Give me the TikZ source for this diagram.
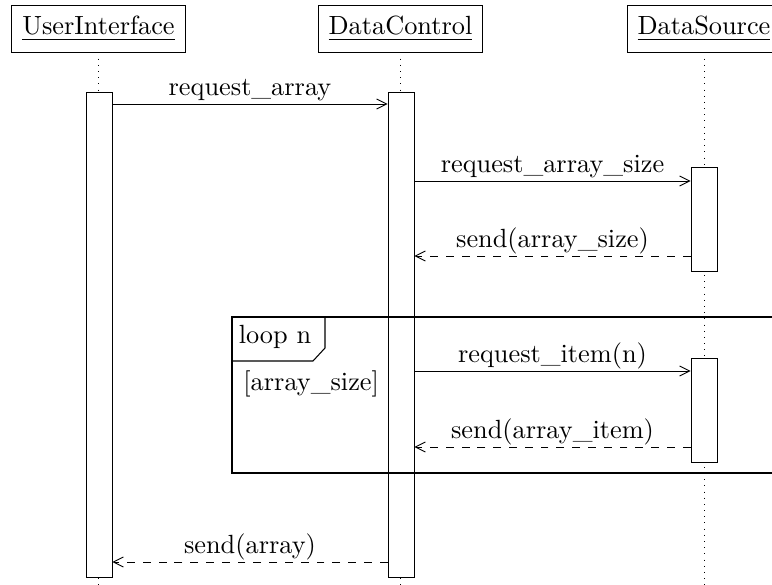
\documentclass[tikz,border=0pt]{standalone}
\usetikzlibrary{arrows.meta,calc}
\begin{document}
\begin{tikzpicture}[x=0.38pt,y=-0.38pt,line width=0.32pt,
  header/.style={draw,rectangle,inner xsep=4pt,minimum height=17.9pt},
  lifeline/.style={dash pattern=on 0.35pt off 2pt},
  activation/.style={draw,fill=white,rectangle,minimum width=9.9pt,inner sep=0pt},
  call/.style={-{Straight Barb[length=3.8pt,width=3.8pt]}},
  reply/.style={call,dashed},
  msglabel/.style={anchor=base,inner sep=0pt},
  frame/.style={draw,line width=0.4pt}]
\useasboundingbox (0,0) rectangle (772,585);

% participants
\node[header] (ui) at (98.5,28.5) {\underline{UserInterface}};
\node[header] (dc) at (400.5,28.5) {\underline{DataControl}};
\node[header] (ds) at (704,28.5) {\underline{DataSource}};

% lifelines
\coordinate (uiEnd) at (98.5,590);
\coordinate (dcEnd) at (400.5,590);
\coordinate (dsEnd) at (704,590);
\draw[lifeline] (ui.south) -- (uiEnd);
\draw[lifeline] (dc.south) -- (dcEnd);
\draw[lifeline] (ds.south) -- (dsEnd);

% activation bars
\node[activation,minimum height=485*0.38pt] (uiAct) at (99,334.5) {};
\node[activation,minimum height=485*0.38pt] (dcAct) at (401,334.5) {};
\node[activation,minimum height=104*0.38pt] (dsActA) at (704,219) {};
\node[activation,minimum height=104*0.38pt] (dsActB) at (704,410) {};

% loop fragment
\coordinate (fTL) at (232,317);
\coordinate (fBR) at (800,473);
\draw[frame] (fTL) rectangle (fBR);
\draw[frame] (232,361) -- (313,361) -- (325,348) -- (325,317);
\node[anchor=base,inner sep=0pt] (loopTag) at (275,344) {loop n};
\node[anchor=base west,inner sep=0pt] (guard) at (243,391) {[array\_size]};

% messages
\draw[call] (uiAct.east |- 0,104) -- (dcAct.west |- 0,104)
  node[msglabel,pos=0.5,yshift=3.3pt] (m1) {request\_array};
\draw[call] (dcAct.east |- 0,181) -- (dsActA.west |- 0,181)
  node[msglabel,pos=0.5,yshift=3.3pt] (m2) {request\_array\_size};
\draw[reply] (dsActA.west |- 0,256) -- (dcAct.east |- 0,256)
  node[msglabel,pos=0.5,yshift=3.3pt] (m3) {send(array\_size)};
\draw[call] (dcAct.east |- 0,371) -- (dsActB.west |- 0,371)
  node[msglabel,pos=0.5,yshift=3.3pt] (m4) {request\_item(n)};
\draw[reply] (dsActB.west |- 0,447) -- (dcAct.east |- 0,447)
  node[msglabel,pos=0.5,yshift=3.3pt] (m5) {send(array\_item)};
\draw[reply] (dcAct.west |- 0,562) -- (uiAct.east |- 0,562)
  node[msglabel,pos=0.5,yshift=3.3pt] (m6) {send(array)};
\end{tikzpicture}
\end{document}
